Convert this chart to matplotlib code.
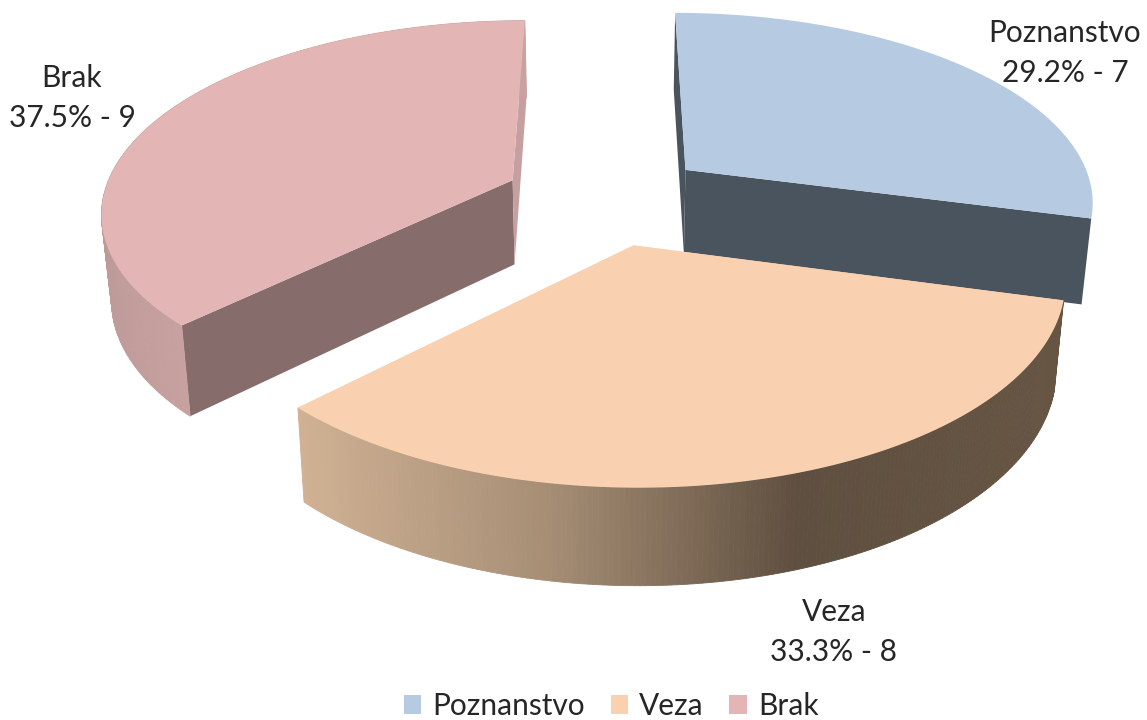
import numpy as np
import matplotlib
matplotlib.use('Agg')
import matplotlib.pyplot as plt
from matplotlib.patches import Patch

plt.rcParams['font.family'] = ['Lato', 'DejaVu Sans']

labels = ['Poznanstvo', 'Veza', 'Brak']
values = [7, 8, 9]
top_colors = ['#B6CBE2', '#FAD1B0', '#E3B6B5']
# cut face colours: at the start angle, at the end angle
cut_colors = [('#4A545E', '#4A545E'), ('#FAD1B0', '#FAD1B0'), ('#876C6C', '#C6A0A0')]
# wall shading along screen x
wall_x = {'Veza': [300, 550, 800, 1060], 'Brak': [100, 190]}
wall_c = {'Veza': ['#D0B194', '#A68E75', '#5F4F40', '#665543'], 'Brak': ['#BE9A99', '#C8A2A1']}
label_pos = {'Poznanstvo': (1065, 53), 'Veza': (834, 632), 'Brak': (72, 98)}

# fitted view of the tilted disc, in image pixels
Xc, Yc, A, B, k = 606, 198, 410, 189, 0.153
Yb, sx, sy = 283, 0.98, 1.045
explode = 0.25


def project(U, V, bottom=False):
    d = 1 + k * V
    if bottom:
        return Xc + sx * A * U / d, Yb - sy * B * V / d
    return Xc + A * U / d, Yc - B * V / d


def slice_points(a0, a1, mid):
    t = np.linspace(a0, a1, 200)
    ox, oy = explode * np.sin(mid), explode * np.cos(mid)
    return t, ox, oy, ox + np.sin(t), oy + np.cos(t)


def shade(name, x):
    rgb = np.array([matplotlib.colors.to_rgb(c) for c in wall_c[name]])
    return [np.interp(x, wall_x[name], rgb[:, n]) for n in range(3)]


fig = plt.figure(figsize=(11.47, 7.2), dpi=100)
ax = fig.add_axes([0, 0, 1, 1])
ax.set_xlim(0, 1147)
ax.set_ylim(720, 0)
ax.axis('off')

total = sum(values)
ends = np.cumsum(values) / total * 2 * np.pi
starts = np.r_[0, ends[:-1]]

# back slices first, the front slice last
for i in [2, 0, 1]:
    a0, a1 = starts[i], ends[i]
    mid = (a0 + a1) / 2
    t, ox, oy, U, V = slice_points(a0, a1, mid)
    tx, ty = project(U, V)
    bx, by = project(U, V, True)
    cx_t, cy_t = project(ox, oy)
    cx_b, cy_b = project(ox, oy, True)

    # two cut faces
    for j, col in zip([0, -1], cut_colors[i]):
        ax.fill([cx_t, tx[j], bx[j], cx_b], [cy_t, ty[j], by[j], cy_b],
                color=col, lw=0, zorder=i + 1)

    # outer wall in small strips for the shading
    if labels[i] in wall_x:
        for j in range(len(t) - 1):
            ax.fill([tx[j], tx[j + 1], bx[j + 1], bx[j]], [ty[j], ty[j + 1], by[j + 1], by[j]],
                    color=shade(labels[i], tx[j]), lw=0.6, zorder=i + 1)

    ax.fill(np.r_[cx_t, tx], np.r_[cy_t, ty], color=top_colors[i], lw=0, zorder=i + 1)

    px, py = label_pos[labels[i]]
    ax.text(px, py, f'{labels[i]}\n{100 * values[i] / total:.1f}% - {values[i]}',
            ha='center', va='center', fontsize=21.5, color='#262626', linespacing=1.5, zorder=9)

handles = [Patch(color=c, lw=0) for c in top_colors]
ax.legend(handles, labels, loc='center', bbox_to_anchor=(611, 706), bbox_transform=ax.transData,
          ncol=3, frameon=False, fontsize=21.5, handlelength=0.6, handleheight=0.6,
          handletextpad=0.35, columnspacing=0.87, labelcolor='#262626', borderpad=0)

fig.savefig('out.png', dpi=100)
